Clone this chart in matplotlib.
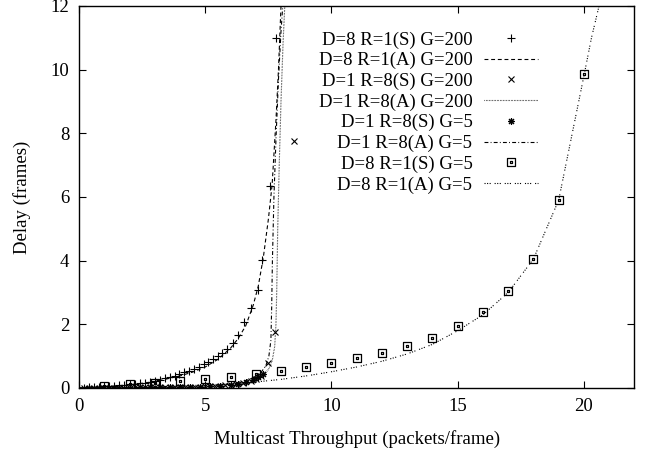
import numpy as np
import matplotlib
matplotlib.use("Agg")
import matplotlib.pyplot as plt
from matplotlib.path import Path

plt.rcParams['font.family'] = ['Liberation Serif', 'DejaVu Serif']
plt.rcParams['font.size'] = 13.5

# D=8 R=1(S) G=200  (+ markers)
sim_d8_g200_x = [0.2, 0.4, 0.6, 0.8, 1.0, 1.2, 1.4, 1.6, 1.8, 2.0, 2.2, 2.4, 2.6, 2.8,
                 3.0, 3.2, 3.39, 3.6, 3.79, 3.97, 4.17, 4.37, 4.55, 4.74, 4.94, 5.12,
                 5.29, 5.49, 5.68, 5.85, 6.09, 6.31, 6.55, 6.8, 7.08, 7.26, 7.56, 7.8]
sim_d8_g200_y = [0.01, 0.02, 0.03, 0.04, 0.05, 0.06, 0.07, 0.08, 0.1, 0.11, 0.13, 0.15, 0.17, 0.2,
                 0.23, 0.26, 0.30, 0.35, 0.39, 0.44, 0.49, 0.54, 0.61, 0.67, 0.74, 0.83,
                 0.91, 1.0, 1.11, 1.23, 1.42, 1.67, 2.07, 2.5, 3.08, 4.03, 6.35, 11.0]

# D=8 R=1(A) G=200  (dashed)
ana_d8_g200_x = [0, 1, 2, 3, 4, 4.5, 5, 5.5, 6, 6.3, 6.6, 6.9, 7.1, 7.3, 7.5, 7.65, 7.8, 7.9, 7.96, 8.0]
ana_d8_g200_y = [0, 0.04, 0.1, 0.2, 0.38, 0.5, 0.66, 0.9, 1.25, 1.55, 1.95, 2.6, 3.2, 4.1, 5.3, 6.4, 8.4, 10.0, 11.2, 12.0]

# D=1 R=8(S) G=200  (x markers)
sim_d1_g200_x = [0.2, 0.6, 1.0, 1.4, 1.8, 2.2, 2.6, 3.0, 3.4, 3.8, 4.2, 4.6, 5.0, 5.4,
                 5.8, 6.2, 6.5, 6.8, 7.0, 7.2, 7.5, 7.78, 8.5]
sim_d1_g200_y = [0.01, 0.01, 0.01, 0.01, 0.01, 0.02, 0.02, 0.02, 0.02, 0.03, 0.03, 0.04, 0.05, 0.07,
                 0.09, 0.12, 0.16, 0.22, 0.28, 0.38, 0.8, 1.77, 7.75]

# D=1 R=8(A) G=200  (fine dotted)
ana_d1_g200_x = [0, 2, 4, 5, 6, 6.5, 7.0, 7.3, 7.5, 7.65, 7.75, 7.8, 7.83, 7.87, 7.93, 8.0, 8.08, 8.15]
ana_d1_g200_y = [0, 0.01, 0.03, 0.05, 0.1, 0.16, 0.28, 0.4, 0.58, 0.85, 1.3, 2.0, 3.0, 5.0, 7.0, 9.0, 10.8, 12.0]

# D=1 R=8(S) G=5  (* markers)
sim_d1_g5_x = [0.4, 0.8, 1.2, 1.6, 2.0, 2.4, 2.8, 3.2, 3.6, 4.0, 4.4, 4.8, 5.2, 5.6,
               6.0, 6.3, 6.6, 6.9, 7.1, 7.3]
sim_d1_g5_y = [0.01, 0.01, 0.01, 0.01, 0.01, 0.02, 0.02, 0.02, 0.02, 0.03, 0.03, 0.04, 0.05, 0.07,
               0.1, 0.14, 0.18, 0.25, 0.33, 0.45]

# D=1 R=8(A) G=5  (dash-dot)
ana_d1_g5_x = [0, 2, 4, 5, 6, 6.5, 6.9, 7.2, 7.4, 7.52, 7.6, 7.63, 7.66, 7.72, 7.8, 7.9, 8.0, 8.07]
ana_d1_g5_y = [0, 0.01, 0.03, 0.05, 0.12, 0.2, 0.32, 0.48, 0.7, 1.0, 1.5, 2.5, 4.0, 6.0, 7.8, 9.7, 11.2, 12.0]

# D=8 R=1(S) G=5  (boxed dot markers)
sim_d8_g5_x = [1, 2, 3, 4, 5, 6, 7, 8, 9, 10, 11, 12, 13, 14, 15, 16, 17, 18, 19, 20]
sim_d8_g5_y = [0.06, 0.12, 0.16, 0.21, 0.28, 0.36, 0.45, 0.54, 0.65, 0.8, 0.93, 1.1, 1.33, 1.58,
               1.95, 2.38, 3.06, 4.06, 5.91, 9.87]

# D=8 R=1(A) G=5  (sparse dotted)
ana_d8_g5_x = [0, 2, 4, 6, 7, 8, 9, 10, 11, 12, 13, 14, 15, 16, 17, 18, 19, 20, 20.3, 20.6]
ana_d8_g5_y = [0, 0.02, 0.06, 0.13, 0.19, 0.27, 0.38, 0.51, 0.66, 0.84, 1.07, 1.37, 1.8, 2.3,
               3.0, 4.05, 5.9, 9.8, 11.0, 12.0]

# boxed-dot marker: outer square plus a tiny inner square
s, d = 1.0, 0.14
verts = [(-s, -s), (s, -s), (s, s), (-s, s), (-s, -s),
         (-d, -d), (d, -d), (d, d), (-d, d), (-d, -d)]
codes = [Path.MOVETO, Path.LINETO, Path.LINETO, Path.LINETO, Path.CLOSEPOLY] * 2
boxdot = Path(verts, codes)

fig = plt.figure(figsize=(6.48, 4.57), dpi=100)
ax = fig.add_axes([0.122, 0.151, 0.857, 0.836])

lw = 0.8
ax.plot(sim_d8_g200_x, sim_d8_g200_y, ls='none', marker='+', ms=6, mew=0.8, color='black',
        label='D=8 R=1(S) G=200')
ax.plot(ana_d8_g200_x, ana_d8_g200_y, color='black', lw=lw, dashes=(3.5, 2.5),
        label='D=8 R=1(A) G=200')
ax.plot(sim_d1_g200_x, sim_d1_g200_y, ls='none', marker='x', ms=5, mew=0.8, color='black',
        label='D=1 R=8(S) G=200')
ax.plot(ana_d1_g200_x, ana_d1_g200_y, color='black', lw=lw, dashes=(0.5, 0.9),
        label='D=1 R=8(A) G=200')
ax.plot(sim_d1_g5_x, sim_d1_g5_y, ls='none', marker=(8, 2, 0), ms=5, mew=0.8, color='black',
        label='D=1 R=8(S) G=5')
ax.plot(ana_d1_g5_x, ana_d1_g5_y, color='black', lw=lw, dashes=(3.5, 2, 0.8, 2),
        label='D=1 R=8(A) G=5')
ax.plot(sim_d8_g5_x, sim_d8_g5_y, ls='none', marker=boxdot, ms=5.5, mew=0.9, mfc='none',
        color='black', label='D=8 R=1(S) G=5')
ax.plot(ana_d8_g5_x, ana_d8_g5_y, color='black', lw=lw, dashes=(1, 1.3, 1, 1.3, 1, 3.5),
        label='D=8 R=1(A) G=5')

ax.set_xlim(0, 22)
ax.set_ylim(0, 12)
ax.set_xticks([0, 5, 10, 15, 20])
ax.set_yticks([0, 2, 4, 6, 8, 10, 12])
ax.tick_params(direction='in', top=True, right=True, length=5, width=0.8, labelsize=13.5, pad=7)
for sp in ax.spines.values():
    sp.set_linewidth(1.0)

ax.set_xlabel('Multicast Throughput (packets/frame)', fontsize=13.5, labelpad=11)
ax.set_ylabel('Delay (frames)', fontsize=13.5, labelpad=14)

ax.legend(loc='upper right', bbox_to_anchor=(0.84, 0.953), markerfirst=False, frameon=False,
          handlelength=2.9, handletextpad=0.6, labelspacing=0.18, borderaxespad=0, fontsize=13.5)

fig.savefig('out.png', dpi=100)
